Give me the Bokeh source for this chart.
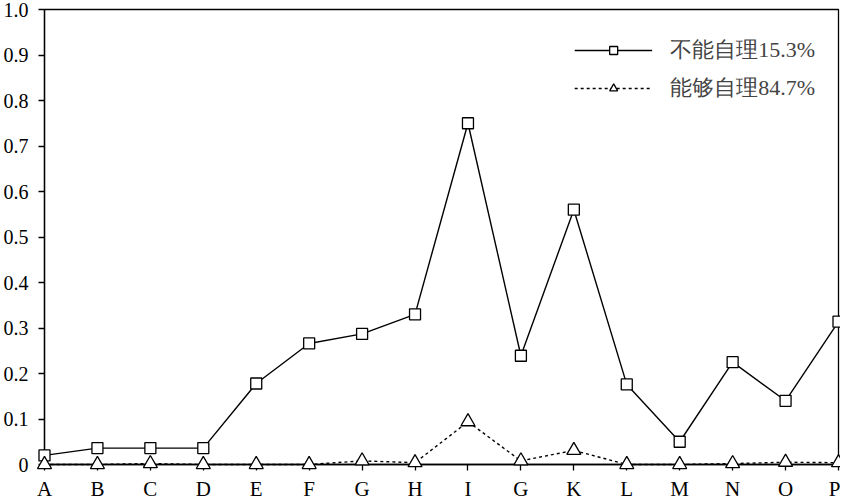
from bokeh.plotting import figure
from bokeh.models import Range1d, FixedTicker, Legend, LegendItem
from bokeh.embed import file_html
from bokeh.resources import INLINE

categories = ["A", "B", "C", "D", "E", "F", "G", "H", "I", "G", "K", "L", "M", "N", "O", "P"]
series1_name = "不能自理15.3%"
series1 = [0.020, 0.036, 0.036, 0.036, 0.178, 0.266, 0.287, 0.330, 0.750, 0.239,
           0.560, 0.176, 0.050, 0.225, 0.140, 0.314]
series2_name = "能够自理84.7%"
series2 = [0.0, 0.0, 0.002, 0.0, 0.0, 0.0, 0.008, 0.004, 0.094, 0.008,
           0.031, 0.0, 0.0, 0.002, 0.005, 0.004]
y_ticks = [0, 0.1, 0.2, 0.3, 0.4, 0.5, 0.6, 0.7, 0.8, 0.9, 1.0]
y_tick_labels = ["0", "0.1", "0.2", "0.3", "0.4", "0.5", "0.6", "0.7", "0.8", "0.9", "1.0"]

xs = list(range(len(categories)))

p = figure(frame_width=794, frame_height=455, output_backend="svg", toolbar_location=None,
           x_range=Range1d(0, len(categories) - 1), y_range=Range1d(0, 1.0))
p.min_border_left = 43
p.min_border_right = 2
p.min_border_top = 9
p.min_border_bottom = 20
p.background_fill_color = "white"
p.border_fill_color = "white"
p.outline_line_color = "black"
p.outline_line_width = 1.3
p.grid.visible = False

serif = "'Liberation Serif'"

p.xaxis.ticker = FixedTicker(ticks=xs)
p.xaxis.major_label_overrides = {i: c for i, c in enumerate(categories)}
p.xaxis.major_label_text_font = serif
p.xaxis.major_label_text_font_size = "21px"
p.xaxis.major_label_text_color = "black"
p.xaxis.major_tick_in = 0
p.xaxis.major_tick_out = 6
p.xaxis.minor_tick_line_color = None
p.xaxis.major_label_standoff = 6
p.xaxis.axis_line_width = 1.3
p.xaxis.major_tick_line_width = 1.3

p.yaxis.ticker = FixedTicker(ticks=y_ticks)
p.yaxis.major_label_overrides = {t: l for t, l in zip(y_ticks, y_tick_labels)}
p.yaxis.major_label_text_font = serif
p.yaxis.major_label_text_font_size = "20px"
p.yaxis.major_label_text_color = "black"
p.yaxis.major_tick_in = 0
p.yaxis.major_tick_out = 6
p.yaxis.minor_tick_line_color = None
p.yaxis.major_label_standoff = 10
p.yaxis.axis_line_width = 1.3
p.yaxis.major_tick_line_width = 1.3

l1 = p.line(xs, series1, line_color="black", line_width=1.4, level="overlay")
s1 = p.scatter(xs, series1, marker="square", size=11, fill_color="white",
               line_color="black", line_width=1.3, level="overlay")
l2 = p.line(xs, series2, line_color="black", line_width=1.4, line_dash="3 3", level="overlay")
s2 = p.scatter(xs, series2, marker="triangle", size=14, fill_color="white",
               line_color="black", line_width=1.3, level="overlay")

legend = Legend(items=[LegendItem(label=series1_name, renderers=[l1, s1]),
                       LegendItem(label=series2_name, renderers=[l2, s2])],
                location="top_right")
legend.border_line_color = None
legend.background_fill_alpha = 0
legend.label_text_font = serif
legend.label_text_font_size = "22px"
legend.glyph_width = 78
legend.glyph_height = 20
legend.label_height = 36
legend.spacing = 2
legend.label_standoff = 18
legend.margin = 23
legend.padding = 3
p.add_layout(legend)

open("out.html", "w").write(file_html(p, INLINE))
